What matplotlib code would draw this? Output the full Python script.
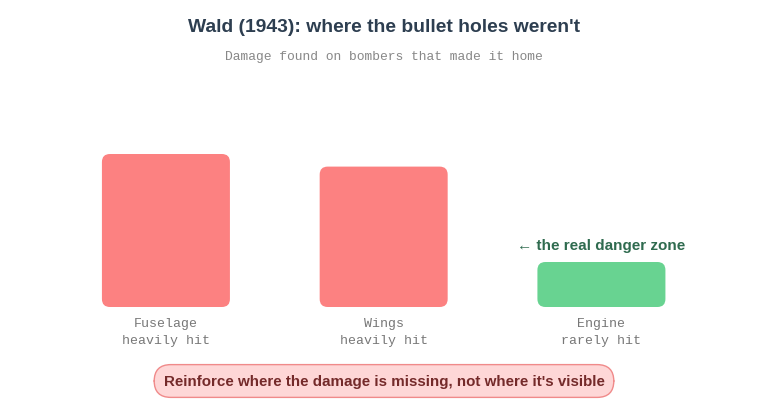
import matplotlib
matplotlib.use("Agg")
import matplotlib.pyplot as plt
from matplotlib.patches import FancyBboxPatch

# Data
parts = ["Fuselage", "Wings", "Engine"]
notes = ["heavily hit", "heavily hit", "rarely hit"]
damage = [85, 78, 25]
colors = ["#FC8181", "#FC8181", "#68D391"]

title = "Wald (1943): where the bullet holes weren't"
subtitle = "Damage found on bombers that made it home"
callout = "Reinforce where the damage is missing, not where it's visible"
pointer = "\u2190 the real danger zone"

W, H = 768, 410
fig = plt.figure(figsize=(W / 100, H / 100), dpi=100)
fig.patch.set_facecolor("white")

# axes spans whole width; bottom of bars at y=307px
ax = fig.add_axes([0, (H - 308) / H, 1, 207 / H])
ax.set_xlim(-0.762, 2.765)
ax.set_ylim(0, 115)
ax.axis("off")

px_x = W / (2.765 + 0.762)
px_y = 207 / 115
bw = 128 / px_x
rad = 8 / px_x

for i, (v, c) in enumerate(zip(damage, colors)):
    p = FancyBboxPatch((i - bw / 2, 0), bw, v,
                       boxstyle=f"round,pad=0,rounding_size={rad}",
                       mutation_aspect=px_x / px_y,
                       facecolor=c, edgecolor="none")
    ax.add_patch(p)
    ax.annotate(f"{parts[i]}\n{notes[i]}", (i, 0), xytext=(0, -7),
                textcoords="offset points", ha="center", va="top",
                fontsize=9.5, family="Liberation Mono", color="#777777",
                linespacing=1.55)

ax.annotate(pointer, (2, damage[2]), xytext=(0, 7), textcoords="offset points",
            ha="center", va="bottom", fontsize=11, fontweight="bold",
            family="Liberation Sans", color="#2F6B4F")

fig.text(0.5, 1 - 27.5 / H, title, ha="center", va="center", fontsize=13.9,
         fontweight="bold", family="Liberation Sans", color="#2D3E50")
fig.text(0.5, 1 - 57 / H, subtitle, ha="center", va="center", fontsize=9.4,
         family="Liberation Mono", color="#888888")

fig.text(0.5, 1 - 382 / H, callout, ha="center", va="center", fontsize=10.9,
         fontweight="bold", family="Liberation Sans", color="#742A2A",
         bbox=dict(boxstyle="round,pad=0.62,rounding_size=1.1",
                   facecolor="#FED7D7", edgecolor="#F08A8A", linewidth=1))

fig.savefig("out.png", dpi=100, facecolor="white")
